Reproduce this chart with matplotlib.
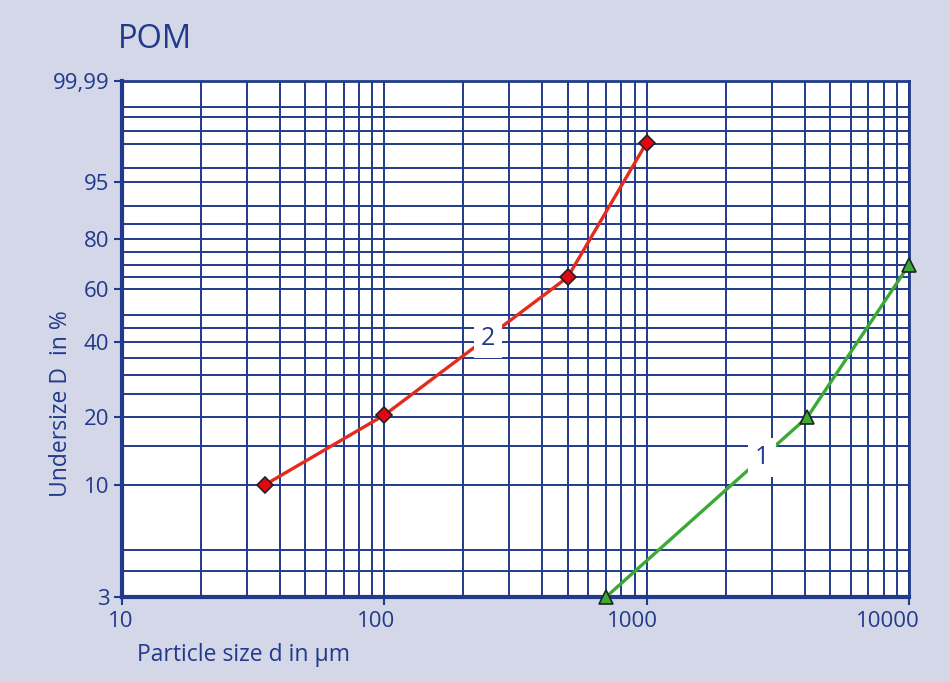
import numpy as np
import matplotlib
matplotlib.use("Agg")
import matplotlib.pyplot as plt
import matplotlib.transforms as mtransforms

# data
curve2_d = [35, 100, 500, 1000]
curve2_D = [10, 20.4, 65, 99.05]
curve1_d = [700, 4100, 10000]
curve1_D = [3, 20, 70]

ytick_vals = [3, 10, 20, 40, 60, 80, 95, 99.99]
ytick_labels = ["3", "10", "20", "40", "60", "80", "95", "99,99"]
ygrid_vals = [4, 5, 15, 25, 30, 35, 45, 50, 65, 70, 75, 85, 90, 97, 99, 99.5, 99.8, 99.9]
xtick_vals = [10, 100, 1000, 10000]
xtick_labels = ["10", "100", "1000", "10000"]

NAVY = "#213a8c"
BG = "#d3d7e8"

plt.rcParams['font.family'] = ['Open Sans', 'DejaVu Sans']


# RRSB scale: ln(-ln(1 - D/100))
def rrsb_fwd(D):
    D = np.clip(np.asarray(D, dtype=float), 1e-6, 99.99999)
    return np.log(-np.log(1 - D / 100.0))


def rrsb_inv(t):
    return 100.0 * (1 - np.exp(-np.exp(np.asarray(t, dtype=float))))


fig = plt.figure(figsize=(9.5, 6.82), dpi=100, facecolor=BG)
ax = fig.add_axes([122 / 950, 1 - 597 / 682, (909 - 122) / 950, (597 - 81) / 682])
ax.set_facecolor("white")

ax.set_xscale("log")
ax.set_yscale("function", functions=(rrsb_fwd, rrsb_inv))
ax.set_xlim(10, 10000)
ax.set_ylim(3, 99.99)

# grid lines
xgrid_vals = [m * 10 ** e for e in (1, 2, 3) for m in range(2, 10)]
for xv in xgrid_vals + xtick_vals:
    ax.axvline(xv, color=NAVY, lw=1.4, zorder=1)
for yv in ygrid_vals + ytick_vals:
    ax.axhline(yv, color=NAVY, lw=1.4, zorder=1)

ax.set_yticks(ytick_vals)
ax.set_yticklabels(ytick_labels)
ax.set_yticks([], minor=True)
ax.set_xticks(xtick_vals)
ax.set_xticklabels(xtick_labels)
ax.set_xticks([], minor=True)
ax.tick_params(axis="both", colors=NAVY, labelcolor=NAVY, labelsize=16,
               length=6, width=1.5, direction="out")
ax.tick_params(axis="y", pad=3)
ax.tick_params(axis="x", pad=4)

# shift x tick labels so they end just right of the tick
offset = mtransforms.ScaledTranslation(11 / 100, 0, fig.dpi_scale_trans)
for lab in ax.get_xticklabels():
    lab.set_horizontalalignment("right")
    lab.set_transform(lab.get_transform() + offset)

for side, lw in (("left", 3), ("bottom", 3), ("top", 2), ("right", 2)):
    ax.spines[side].set_color(NAVY)
    ax.spines[side].set_linewidth(lw)

ax.plot(curve2_d, curve2_D, color="#e42b1c", lw=2.4, zorder=3,
        marker="D", markersize=8, markerfacecolor="#e30613",
        markeredgecolor="#222222", markeredgewidth=1.2, clip_on=False)
ax.plot(curve1_d, curve1_D, color="#3aaa35", lw=2.4, zorder=3,
        marker="^", markersize=10, markerfacecolor="#3aaa35",
        markeredgecolor="#222222", markeredgewidth=1.2, clip_on=False)

box = dict(facecolor="white", edgecolor="none", pad=5)
ax.text(0.465, 0.501, "2", transform=ax.transAxes, ha="center", va="center",
        fontsize=18, color=NAVY, bbox=box, zorder=4)
ax.text(0.8135, 0.270, "1", transform=ax.transAxes, ha="center", va="center",
        fontsize=18, color=NAVY, bbox=box, zorder=4)

fig.text(118 / 950, 1 - 40 / 682, "POM", fontsize=23.5, color=NAVY,
         ha="left", va="center")
fig.text(61 / 950, 1 - 404 / 682, "Undersize D  in %", fontsize=16.5, color=NAVY,
         rotation=90, ha="center", va="center")
fig.text(137 / 950, 1 - 655 / 682, "Particle size d in µm", fontsize=16.5,
         color=NAVY, ha="left", va="center")

fig.savefig("out.png", dpi=100, facecolor=BG)
